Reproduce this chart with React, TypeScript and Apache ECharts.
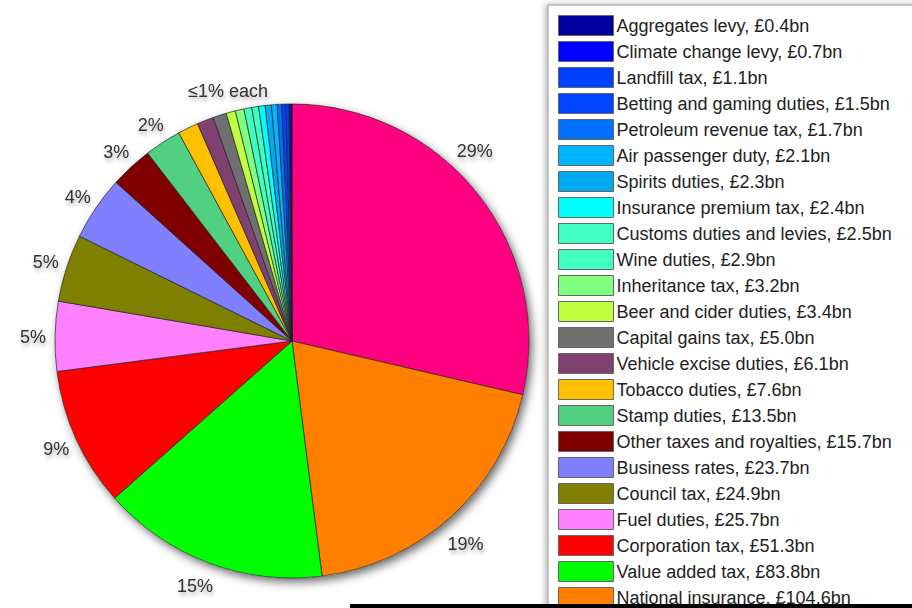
import React, { useEffect, useRef } from "react";
import * as echarts from "echarts";

const names = [
  "Income tax", "National insurance", "Value added tax", "Corporation tax", "Fuel duties",
  "Council tax", "Business rates", "Other taxes and royalties", "Stamp duties", "Tobacco duties",
  "Vehicle excise duties", "Capital gains tax", "Beer and cider duties", "Inheritance tax", "Wine duties",
  "Customs duties and levies", "Insurance premium tax", "Spirits duties", "Air passenger duty",
  "Petroleum revenue tax", "Betting and gaming duties", "Landfill tax", "Climate change levy", "Aggregates levy",
];
const values = [
  155.0, 104.6, 83.8, 51.3, 25.7, 24.9, 23.7, 15.7, 13.5, 7.6, 6.1, 5.0, 3.4, 3.2, 2.9, 2.5, 2.4, 2.3, 2.1, 1.7,
  1.5, 1.1, 0.7, 0.4,
];
const colors = [
  "#ff0080", "#ff8000", "#00ff00", "#ff0000", "#ff80ff", "#808000", "#8080ff", "#800000", "#50d080", "#ffc000",
  "#804070", "#707070", "#c0ff40", "#80ff80", "#40ffc0", "#40ffc0", "#00ffff", "#00aaf0", "#00b4ff", "#0070ff",
  "#0044ff", "#0040ff", "#0000ff", "#0000a0",
];
const smallLabel = "≤1% each";

export default function App() {
  const ref = useRef<HTMLDivElement>(null);
  useEffect(() => {
    document.body.style.margin = "0";
    document.body.style.overflow = "hidden";
    const chart = echarts.init(ref.current!, null, { renderer: "svg" });
    const total = values.reduce((a, b) => a + b, 0);
    const valueOf: Record<string, number> = {};
    names.forEach((n, i) => (valueOf[n] = values[i]));

    const mainData = names.map((n, i) => ({ name: n, value: values[i], itemStyle: { color: colors[i] } }));

    const labelOffsets: Record<number, number[]> = { 0: [-20, -30], 1: [0, 10], 2: [-6, 2] };
    const labelData: any[] = [];
    let smallSum = 0;
    names.forEach((n, i) => {
      if ((values[i] / total) * 100 >= 1.5) {
        const item: any = { name: "lbl-" + n, value: values[i] };
        if (labelOffsets[i]) item.label = { offset: labelOffsets[i] };
        labelData.push(item);
      } else smallSum += values[i];
    });
    labelData.push({ name: "lbl-small", value: smallSum, small: true });

    const textShadow = {
      textShadowColor: "rgba(0,0,0,0.35)",
      textShadowBlur: 4,
      textShadowOffsetX: 1,
      textShadowOffsetY: 3,
    };

    chart.setOption({
      animation: false,
      backgroundColor: "#ffffff",
      textStyle: { fontFamily: "Liberation Sans, Arial, sans-serif" },
      legend: {
        orient: "vertical",
        left: 548,
        top: 5,
        height: 900,
        padding: [10, 60, 10, 10],
        itemWidth: 55,
        itemHeight: 20,
        itemGap: 5,
        icon: "rect",
        selectedMode: false,
        backgroundColor: "#ffffff",
        borderColor: "#999999",
        borderWidth: 1,
        shadowColor: "rgba(0,0,0,0.3)",
        shadowBlur: 6,
        shadowOffsetX: -2,
        shadowOffsetY: 0,
        itemStyle: { borderColor: "#666666", borderWidth: 1 },
        textStyle: {
          fontSize: 18,
          lineHeight: 20,
          color: "#222222",
          fontFamily: "Liberation Sans, Arial, sans-serif",
          padding: [0, 0, 0, -2],
        },
        data: names.slice().reverse(),
        formatter: (n: string) => `${n}, £${valueOf[n].toFixed(1)}bn`,
      },
      series: [
        {
          type: "pie",
          silent: true,
          z: 1,
          center: [292, 341],
          radius: 237,
          label: { show: false },
          labelLine: { show: false },
          itemStyle: {
            color: "#ffffff",
            shadowColor: "rgba(0,0,0,0.6)",
            shadowBlur: 10,
            shadowOffsetX: 3,
            shadowOffsetY: 4,
          },
          data: [{ name: "shadow", value: 1 }],
        },
        {
          type: "pie",
          silent: true,
          z: 2,
          center: [292, 341],
          radius: 237,
          startAngle: 90,
          clockwise: true,
          label: { show: false },
          labelLine: { show: false },
          itemStyle: { borderColor: "#222222", borderWidth: 0.7 },
          data: mainData,
        },
        {
          type: "pie",
          silent: true,
          z: 3,
          center: [292, 342],
          radius: [246, 266],
          startAngle: 90,
          clockwise: true,
          itemStyle: { color: "rgba(0,0,0,0)" },
          labelLine: { show: false },
          label: {
            show: true,
            position: "inside",
            fontSize: 18,
            color: "#303030",
            fontFamily: "Liberation Sans, Arial, sans-serif",
            ...textShadow,
            formatter: (p: any) => (p.data.small ? smallLabel : Math.round(p.percent) + "%"),
          },
          data: labelData,
        },
      ],
      graphic: [
        { type: "rect", z: 100, left: 350, top: 604, shape: { width: 562, height: 4 }, style: { fill: "#000000" } },
      ],
    });
    return () => chart.dispose();
  }, []);
  return <div ref={ref} style={{ width: 912, height: 608 }} />;
}
